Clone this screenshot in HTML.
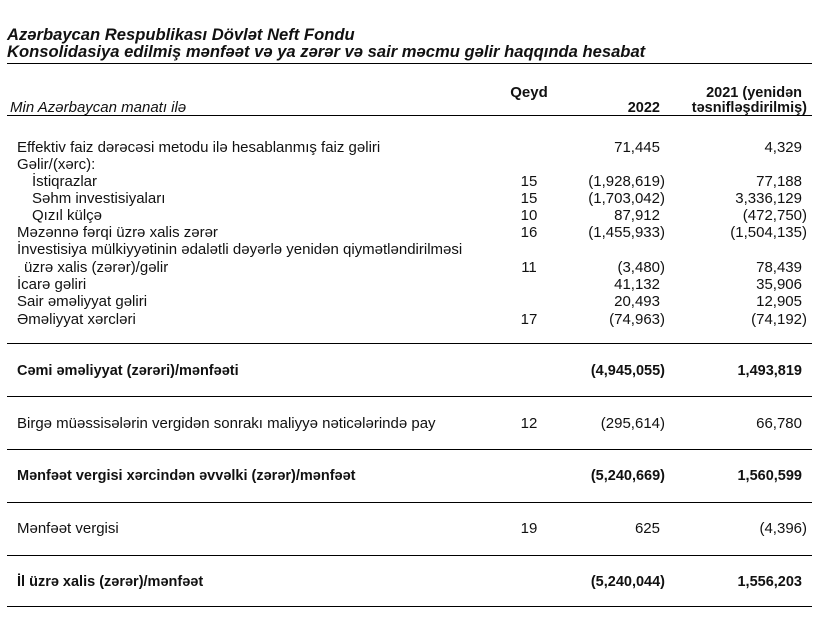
<!DOCTYPE html>
<html><head><meta charset="utf-8"><style>
body{margin:0;width:840px;height:620px;background:#fff;position:relative;font-family:"Liberation Sans",Arial,sans-serif;color:#111;overflow:hidden}
.t{position:absolute;font-size:15px;line-height:16px;white-space:nowrap}
.h{position:absolute;font-size:16.6px;line-height:18px;font-weight:bold;font-style:italic;white-space:nowrap;left:7px}
.ln{position:absolute;left:7px;width:805px;height:1px;background:#000}
.b{font-weight:bold;font-size:14.5px}
.q{text-align:center;width:40px;left:509px}
.a{text-align:right;right:180px}
.ap{text-align:right;right:175px}
.c{text-align:right;right:38px}
.cp{text-align:right;right:33px}
</style></head><body>
<div class="h" style="top:26px">Azərbaycan Respublikası Dövlət Neft Fondu</div>
<div class="h" style="top:43px">Konsolidasiya edilmiş mənfəət və ya zərər və sair məcmu gəlir haqqında hesabat</div>
<div class="ln" style="top:63px"></div>

<div class="t" style="top:85px;left:505px;width:48px;text-align:center;font-weight:bold">Qeyd</div>
<div class="t b c" style="top:85px">2021 (yenidən</div>
<div class="t b a" style="top:100px">2022</div>
<div class="t b cp" style="top:100px">təsnifləşdirilmiş)</div>
<div class="t" style="top:100px;left:10px;font-style:italic">Min Azərbaycan manatı ilə</div>
<div class="ln" style="top:115px"></div>

<div class="t" style="top:140px;left:17px">Effektiv faiz dərəcəsi metodu ilə hesablanmış faiz gəliri</div>
<div class="t a" style="top:140px">71,445</div><div class="t c" style="top:140px">4,329</div>

<div class="t" style="top:157px;left:17px">Gəlir/(xərc):</div>

<div class="t" style="top:174px;left:32px">İstiqrazlar</div>
<div class="t q" style="top:174px">15</div><div class="t ap" style="top:174px">(1,928,619)</div><div class="t c" style="top:174px">77,188</div>

<div class="t" style="top:191px;left:32px">Səhm investisiyaları</div>
<div class="t q" style="top:191px">15</div><div class="t ap" style="top:191px">(1,703,042)</div><div class="t c" style="top:191px">3,336,129</div>

<div class="t" style="top:208px;left:32px">Qızıl külçə</div>
<div class="t q" style="top:208px">10</div><div class="t a" style="top:208px">87,912</div><div class="t cp" style="top:208px">(472,750)</div>

<div class="t" style="top:225px;left:17px">Məzənnə fərqi üzrə xalis zərər</div>
<div class="t q" style="top:225px">16</div><div class="t ap" style="top:225px">(1,455,933)</div><div class="t cp" style="top:225px">(1,504,135)</div>

<div class="t" style="top:242px;left:17px">İnvestisiya mülkiyyətinin ədalətli dəyərlə yenidən qiymətləndirilməsi</div>
<div class="t" style="top:260px;left:24px">üzrə xalis (zərər)/gəlir</div>
<div class="t q" style="top:260px">11</div><div class="t ap" style="top:260px">(3,480)</div><div class="t c" style="top:260px">78,439</div>

<div class="t" style="top:277px;left:17px">İcarə gəliri</div>
<div class="t a" style="top:277px">41,132</div><div class="t c" style="top:277px">35,906</div>

<div class="t" style="top:294px;left:17px">Sair əməliyyat gəliri</div>
<div class="t a" style="top:294px">20,493</div><div class="t c" style="top:294px">12,905</div>

<div class="t" style="top:312px;left:17px">Əməliyyat xərcləri</div>
<div class="t q" style="top:312px">17</div><div class="t ap" style="top:312px">(74,963)</div><div class="t cp" style="top:312px">(74,192)</div>

<div class="ln" style="top:343px"></div>
<div class="t b" style="top:363px;left:17px">Cəmi əməliyyat (zərəri)/mənfəəti</div>
<div class="t b ap" style="top:363px">(4,945,055)</div><div class="t b c" style="top:363px">1,493,819</div>

<div class="ln" style="top:396px"></div>
<div class="t" style="top:416px;left:17px">Birgə müəssisələrin vergidən sonrakı maliyyə nəticələrində pay</div>
<div class="t q" style="top:416px">12</div><div class="t ap" style="top:416px">(295,614)</div><div class="t c" style="top:416px">66,780</div>

<div class="ln" style="top:449px"></div>
<div class="t b" style="top:468px;left:17px">Mənfəət vergisi xərcindən əvvəlki (zərər)/mənfəət</div>
<div class="t b ap" style="top:468px">(5,240,669)</div><div class="t b c" style="top:468px">1,560,599</div>

<div class="ln" style="top:502px"></div>
<div class="t" style="top:521px;left:17px">Mənfəət vergisi</div>
<div class="t q" style="top:521px">19</div><div class="t a" style="top:521px">625</div><div class="t cp" style="top:521px">(4,396)</div>

<div class="ln" style="top:555px"></div>
<div class="t b" style="top:574px;left:17px">İl üzrə xalis (zərər)/mənfəət</div>
<div class="t b ap" style="top:574px">(5,240,044)</div><div class="t b c" style="top:574px">1,556,203</div>

<div class="ln" style="top:606px"></div>
</body></html>
